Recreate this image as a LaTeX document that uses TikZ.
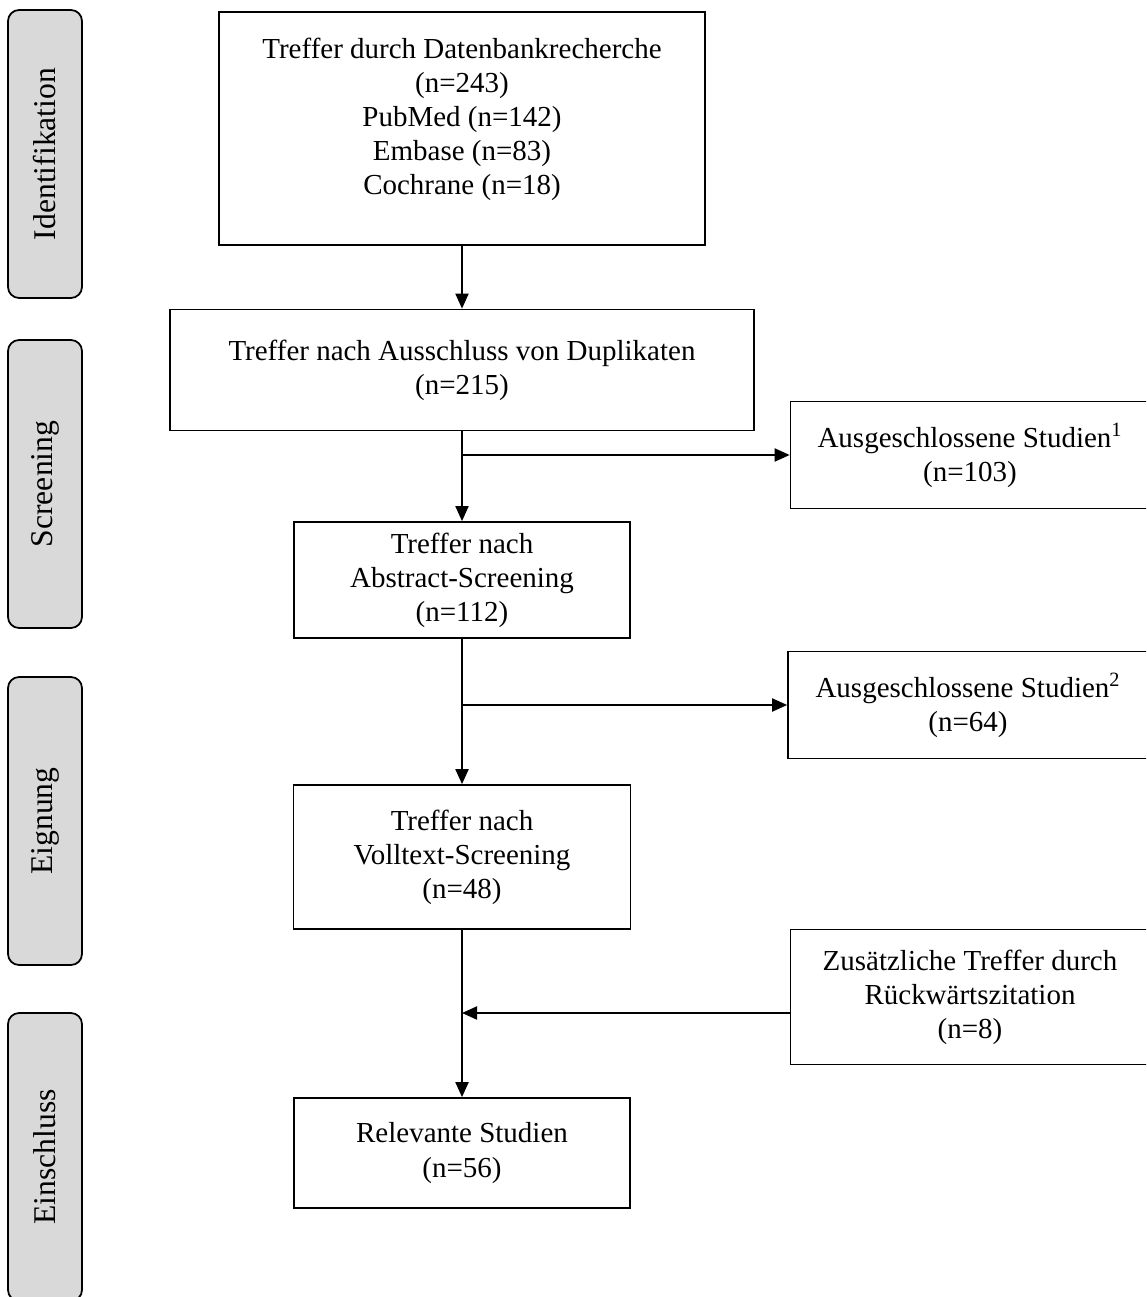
\documentclass[tikz,border=0pt]{standalone}
\usepackage{fontspec}
\setmainfont{Liberation Serif}
\usetikzlibrary{arrows.meta}

\begin{document}
\begin{tikzpicture}[
x=0.02cm,y=-0.02cm,
font=\fontsize{16.5}{19.4}\selectfont,
box/.style={
rectangle,draw,line width=1pt,
align=center,inner sep=0pt
},
side/.style={
rectangle,draw,line width=1pt,rounded corners=0.22cm,
fill=black!15,rotate=90,
font=\fontsize{18}{21}\selectfont,
minimum width=5.76cm,
minimum height=1.48cm
},
arrow/.style={-{Triangle[length=0.3cm,width=0.26cm]}, line width=1.1pt}
]

\useasboundingbox (0,0) rectangle (1146,1297);
\clip (0,0) rectangle (1146,1297);

% =======================
% PHASES (LEFT)
% =======================

\node[side] (ident) at (45,154) {Identifikation};
\node[side] (screen) at (45,484) {Screening};
\node[side] (eign) at (45,821) {Eignung};
\node[side] (einschl) at (45,1157) {Einschluss};

% =======================
% MAIN COLUMN
% =======================

\node[box,minimum width=9.72cm,minimum height=4.66cm,text depth=0.49cm] (db) at (462,128.5)
{Treffer durch Datenbankrecherche \\ (n=243) \\ PubMed (n=142) \\ Embase (n=83) \\ Cochrane (n=18)};

\node[box,minimum width=11.68cm,minimum height=2.42cm] (dup) at (462,370)
{Treffer nach Ausschluss von Duplikaten \\ (n=215)};

\node[box,minimum width=6.72cm,minimum height=2.32cm] (abstr) at (462,580)
{Treffer nach \\ Abstract-Screening \\ (n=112)};

\node[box,minimum width=6.74cm,minimum height=2.88cm] (volltext) at (462,857)
{Treffer nach \\ Volltext-Screening \\ (n=48)};

\node[box,minimum width=6.72cm,minimum height=2.2cm] (relevant) at (462,1153)
{Relevante Studien \\ (n=56)};

% =======================
% RIGHT COLUMN
% =======================

\node[box,minimum width=7.18cm,minimum height=2.14cm] (excl1) at (970,455)
{Ausgeschlossene Studien\textsuperscript{1} \\ (n=103)};

\node[box,minimum width=7.2cm,minimum height=2.14cm] (excl2) at (968,705)
{Ausgeschlossene Studien\textsuperscript{2} \\ (n=64)};

\node[box,minimum width=7.18cm,minimum height=2.7cm] (extra) at (970,997)
{Zusätzliche Treffer durch \\ Rückwärtszitation \\ (n=8)};

% =======================
% ARROWS
% =======================

\coordinate (split1) at (462,455);
\coordinate (split2) at (462,705);
\coordinate (merge) at (462,1013);

\draw[arrow] (db) -- (dup);
\draw[arrow] (dup) -- (abstr);
\draw[arrow] (split1) -- (excl1);
\draw[arrow] (abstr) -- (volltext);
\draw[arrow] (split2) -- (excl2);
\draw[arrow] (volltext) -- (relevant);
\draw[arrow] (extra.west |- merge) -- (merge);

\end{tikzpicture}
\end{document}
